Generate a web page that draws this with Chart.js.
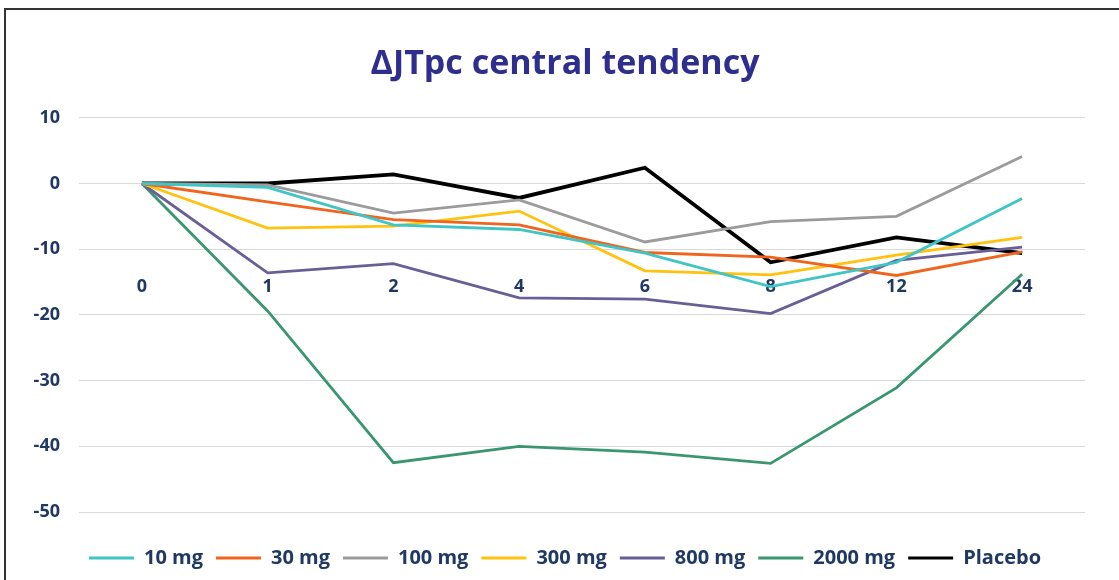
<!DOCTYPE html>
<html>
<head>
<meta charset="utf-8">
<script src="https://cdn.jsdelivr.net/npm/chart.js@4"></script>
<style>
  html, body { margin: 0; padding: 0; background: #fff; }
  #wrap { position: relative; width: 1119px; height: 580px; overflow: hidden; }
  #frame { position: absolute; left: 4px; top: 8px; width: 1200px; height: 700px; border: 2px solid #333; box-sizing: border-box; }
  canvas { position: absolute; left: 0; top: 0; }
</style>
</head>
<body>
<div id="wrap">
  <div id="frame"></div>
  <canvas id="chart" width="1119" height="580"></canvas>
</div>
<script>
const hours = ['0', '1', '2', '4', '6', '8', '12', '24'];
const mg10 = [0, -0.6, -6.3, -7.0, -10.6, -15.7, -12.0, -2.3];
const mg30 = [0, -2.8, -5.5, -6.3, -10.5, -11.2, -14.0, -10.4];
const mg100 = [0, -0.2, -4.5, -2.5, -8.9, -5.8, -5.0, 4.1];
const mg300 = [0, -6.8, -6.5, -4.2, -13.3, -13.9, -10.9, -8.2];
const mg800 = [0, -13.6, -12.2, -17.4, -17.6, -19.8, -11.7, -9.7];
const mg2000 = [0, -19.4, -42.5, -40.0, -40.9, -42.6, -31.1, -13.8];
const placebo = [0, 0, 1.4, -2.2, 2.4, -12.0, -8.2, -10.6];

const navy = '#1F3864';
const font = 'Open Sans';

function line(label, data, color, width) {
    return {
        label: label,
        data: data,
        xAxisID: 'x',
        yAxisID: 'y',
        borderColor: color,
        backgroundColor: color,
        borderWidth: width,
        pointRadius: 0,
        tension: 0,
        fill: false
    };
}

// blank strip used as spacing around the plot
function spacer(pos, size) {
    return {
        type: 'category',
        position: pos,
        grid: { display: false, drawTicks: false },
        border: { display: false },
        ticks: { display: false },
        afterFit: function(scale) {
            if (pos === 'bottom') scale.height = size;
            else scale.width = size;
        }
    };
}

const ctx = document.getElementById('chart').getContext('2d');
const myChart = new Chart(ctx, {
    type: 'line',
    data: {
        labels: hours,
        datasets: [
            line('10 mg', mg10, '#3FC5C5', 2.8),
            line('30 mg', mg30, '#F0641E', 2.8),
            line('100 mg', mg100, '#9B9B9B', 2.8),
            line('300 mg', mg300, '#FFC20E', 2.8),
            line('800 mg', mg800, '#6A5E96', 2.8),
            line('2000 mg', mg2000, '#3A9670', 2.8),
            line('Placebo', placebo, '#000000', 3.8)
        ]
    },
    options: {
        responsive: false,
        animation: false,
        layout: {
            padding: { left: 11, right: 0, top: 0, bottom: 2 }
        },
        plugins: {
            title: {
                display: true,
                text: '\u0394JTpc central tendency',
                color: '#2E2E8F',
                font: { family: font, size: 34, weight: 'bold' },
                padding: { top: 44, bottom: 33 }
            },
            legend: {
                position: 'bottom',
                labels: {
                    color: navy,
                    font: { family: font, size: 20, weight: 'bold' },
                    boxWidth: 45,
                    boxHeight: 3,
                    padding: 13,
                    generateLabels: function(chart) {
                        const items = Chart.defaults.plugins.legend.labels.generateLabels(chart);
                        items.forEach(function(it) { it.lineWidth = 0; });
                        return items;
                    }
                }
            },
            tooltip: { enabled: false }
        },
        scales: {
            x: {
                offset: true,
                position: { y: -14 },
                grid: { display: false, drawTicks: false },
                border: { display: false },
                ticks: {
                    color: navy,
                    padding: 1,
                    font: { family: font, size: 18, weight: 'bold' }
                }
            },
            y: {
                min: -50,
                max: 10,
                afterFit: function(scale) { scale.width = 68; },
                grid: { color: '#D9D9D9', lineWidth: 1, drawTicks: false },
                border: { display: false },
                ticks: {
                    stepSize: 10,
                    color: navy,
                    padding: 19,
                    font: { family: font, size: 18, weight: 'bold' }
                }
            },
            gapBottom: spacer('bottom', 23),
            gapRight: spacer('right', 34)
        }
    }
});
</script>
</body>
</html>
